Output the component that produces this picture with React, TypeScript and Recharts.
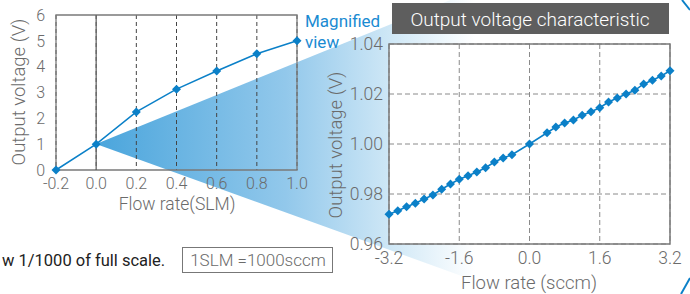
import {
  CartesianGrid,
  Line,
  LineChart,
  ReferenceArea,
  ReferenceLine,
  XAxis,
  YAxis,
} from 'recharts'

// full-scale view (SLM)
const slmFlow = [-0.2, 0.0, 0.2, 0.4, 0.6, 0.8, 1.0]
const slmVoltage = [0, 1.0, 2.25, 3.13, 3.83, 4.5, 5.0]
const slmTicks = [-0.2, 0.0, 0.2, 0.4, 0.6, 0.8, 1.0]
const slmVoltTicks = [0, 1, 2, 3, 4, 5, 6]

// magnified view (sccm)
const sccmFlow = [
  -3.2, -3.0, -2.8, -2.6, -2.4, -2.2, -2.0, -1.8, -1.6, -1.4, -1.2, -1.0, -0.8, -0.6, -0.4, 0.0,
  0.4, 0.6, 0.8, 1.0, 1.2, 1.4, 1.6, 1.8, 2.0, 2.2, 2.4, 2.6, 2.8, 3.0, 3.2,
]
const sccmVoltage = [
  0.9719, 0.9733, 0.9749, 0.9763, 0.978, 0.9796, 0.9819, 0.984, 0.9859, 0.9873, 0.9888, 0.9905,
  0.9928, 0.9944, 0.9957, 1.0, 1.0045, 1.0068, 1.0084, 1.0096, 1.0115, 1.0129, 1.0145, 1.0168,
  1.0184, 1.02, 1.0215, 1.024, 1.0255, 1.0272, 1.0293,
]
const sccmTicks = [-3.2, -1.6, 0.0, 1.6, 3.2]
const sccmVoltTicks = [0.96, 0.98, 1.0, 1.02, 1.04]

const BLUE = '#0b80c8'
const GREY = '#6b6b6b'
const FONT = 'Roboto, "Liberation Sans", sans-serif'

const overview = slmFlow.map((flow, i) => ({ flow, volt: slmVoltage[i] }))
const magnified = sccmFlow.map((flow, i) => ({ flow, volt: sccmVoltage[i] }))

const Diamond = (props: any) => {
  const { cx, cy, index } = props
  if (cx == null || cy == null) return null
  const r = 4.5
  return (
    <path
      key={`dia-${index}`}
      d={`M${cx},${cy - r}L${cx + r},${cy}L${cx},${cy + r}L${cx - r},${cy}Z`}
      fill={BLUE}
    />
  )
}

const tickStyle = (size: number) => ({
  fill: GREY,
  fontSize: size,
  fontFamily: FONT,
  fontWeight: 300,
})

export default function App() {
  return (
    <div
      style={{
        position: 'absolute',
        left: 0,
        top: 0,
        width: 690,
        height: 294,
        overflow: 'hidden',
        background: '#fff',
        fontFamily: FONT,
      }}
    >
      {/* zoom wedge behind the charts */}
      <svg width={690} height={294} style={{ position: 'absolute', left: 0, top: 0 }}>
        <defs>
          <linearGradient id="wedge" gradientUnits="userSpaceOnUse" x1={96} y1={0} x2={475} y2={0}>
            <stop offset="0" stopColor="#4aa5dc" />
            <stop offset="0.5" stopColor="#92c8eb" />
            <stop offset="0.8" stopColor="#d4eaf7" />
            <stop offset="1" stopColor="#ffffff" />
          </linearGradient>
        </defs>
        <polygon points="96,144 480,-12 520,297" fill="url(#wedge)" />
        <path d="M682,0 L690,10" stroke={BLUE} strokeWidth={2} fill="none" />
        <path d="M690,278 L681,294" stroke={BLUE} strokeWidth={2} fill="none" />
      </svg>

      <div style={{ position: 'absolute', left: 0, top: 0 }}>
        <LineChart width={310} height={215} data={overview} margin={{ top: 15, right: 13, left: 0, bottom: 0 }}>
          <CartesianGrid horizontal={false} stroke="#444" strokeDasharray="4 3" />
          <XAxis
            type="number"
            dataKey="flow"
            domain={[-0.2, 1.0]}
            ticks={slmTicks}
            tickFormatter={(v: number) => v.toFixed(1)}
            axisLine={false}
            tickLine={false}
            tickMargin={2}
            height={45}
            tick={tickStyle(16)}
          />
          <YAxis
            type="number"
            domain={[0, 6]}
            ticks={slmVoltTicks}
            axisLine={false}
            tickLine={false}
            tickMargin={5}
            width={56}
            tick={tickStyle(16)}
          />
          <ReferenceLine x={0} stroke="#666" strokeWidth={1.3} />
          <ReferenceArea x1={-0.2} x2={1.0} y1={0} y2={6} fill="none" stroke="#7a7a7a" strokeWidth={1.3} />
          <Line
            dataKey="volt"
            stroke={BLUE}
            strokeWidth={1.5}
            dot={Diamond}
            isAnimationActive={false}
          />
        </LineChart>
      </div>

      <div style={{ position: 'absolute', left: 300, top: 0 }}>
        <LineChart width={390} height={294} data={magnified} margin={{ top: 44, right: 20, left: 0, bottom: 20 }}>
          <CartesianGrid stroke="#8a8a8a" strokeDasharray="5 3" fill="#fff" fillOpacity={1} />
          <XAxis
            type="number"
            dataKey="flow"
            domain={[-3.2, 3.2]}
            ticks={sccmTicks}
            tickFormatter={(v: number) => v.toFixed(1)}
            axisLine={false}
            tickLine={false}
            tickMargin={2}
            height={30}
            tick={tickStyle(17.5)}
          />
          <YAxis
            type="number"
            domain={[0.96, 1.04]}
            ticks={sccmVoltTicks}
            tickFormatter={(v: number) => v.toFixed(2)}
            axisLine={false}
            tickLine={false}
            tickMargin={0}
            width={89}
            tick={tickStyle(17.5)}
          />
          <ReferenceArea x1={-3.2} x2={3.2} y1={0.96} y2={1.04} fill="none" stroke="#7a7a7a" strokeWidth={1.5} />
          <Line
            dataKey="volt"
            stroke={BLUE}
            strokeWidth={1.5}
            dot={Diamond}
            isAnimationActive={false}
          />
        </LineChart>
      </div>

      {/* titles and notes */}
      <svg width={690} height={294} style={{ position: 'absolute', left: 0, top: 0, pointerEvents: 'none' }}>
        <g fontFamily={FONT} fontWeight={300} fill={GREY}>
          <text x={19} y={92} fontSize={18.5} textAnchor="middle" dominantBaseline="central" transform="rotate(-90 19 92)">
            Output voltage (V)
          </text>
          <text x={177} y={204} fontSize={17.5} textAnchor="middle" dominantBaseline="central">
            Flow rate(SLM)
          </text>
          <text x={336} y={145} fontSize={18.5} textAnchor="middle" dominantBaseline="central" transform="rotate(-90 336 145)">
            Output voltage (V)
          </text>
          <text x={529} y={283} fontSize={18.5} textAnchor="middle" dominantBaseline="central">
            Flow rate (sccm)
          </text>
        </g>

        <text x={305} y={27} fontSize={17} fill="#1a8bd2" fontFamily={FONT}>Magnified</text>
        <text x={305} y={48} fontSize={17} fill="#1a8bd2" fontFamily={FONT}>view</text>

        <rect x={392} y={3} width={277} height={31} fill="#5e5e5e" />
        <text x={530} y={19} fontSize={19} fill="#fff" fontFamily={FONT} fontWeight={300} textAnchor="middle" dominantBaseline="central">
          Output voltage characteristic
        </text>

        <text x={2} y={266} fontSize={16.5} fill="#222" fontFamily={FONT}>
          w 1/1000 of full scale.
        </text>
        <rect x={182.5} y={247.5} width={150} height={25} fill="#fff" stroke="#777" strokeWidth={1} />
        <text x={258} y={260} fontSize={17} fill={GREY} fontFamily={FONT} fontWeight={300} textAnchor="middle" dominantBaseline="central">
          1SLM =1000sccm
        </text>
      </svg>
    </div>
  )
}
